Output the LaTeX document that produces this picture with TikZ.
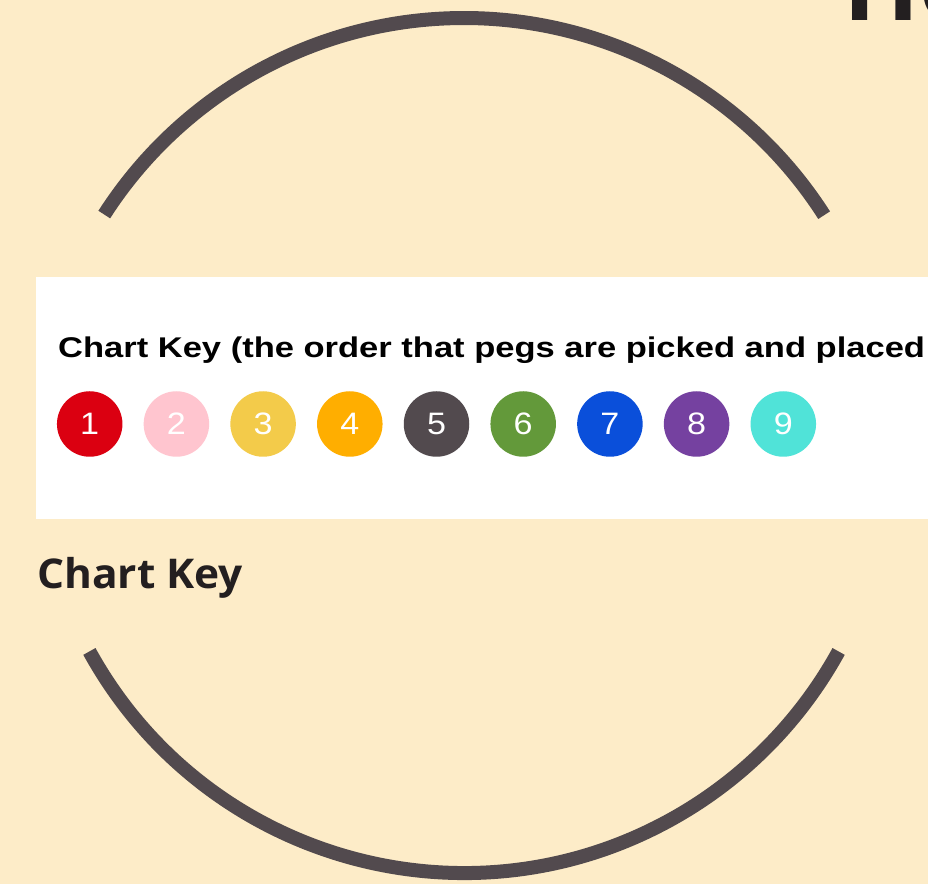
\documentclass[tikz,border=0pt]{standalone}
\usepackage{fontspec}
\setmainfont{Liberation Sans}
\newfontfamily\opensans{Open Sans}
\definecolor{bgc}{HTML}{FDECC8}
\definecolor{ringc}{HTML}{524A4E}
\definecolor{darktxt}{HTML}{231F20}
\definecolor{k1}{HTML}{DB0011}
\definecolor{k2}{HTML}{FFC5CF}
\definecolor{k3}{HTML}{F3CB4A}
\definecolor{k4}{HTML}{FFAE00}
\definecolor{k5}{HTML}{524A4E}
\definecolor{k6}{HTML}{63993A}
\definecolor{k7}{HTML}{0A4FDA}
\definecolor{k8}{HTML}{7541A0}
\definecolor{k9}{HTML}{50E3D8}
\begin{document}
\begin{tikzpicture}[x=1pt,y=1pt,
  ring/.style={draw=ringc,line width=14pt,line cap=butt},
  peg/.style={circle,minimum size=65.5pt,inner sep=0pt,text=white,font=\fontsize{31}{31}\selectfont},
  lbl/.style={anchor=base west,inner sep=0pt}]
\useasboundingbox (0,0) rectangle (928,884);
\clip (0,0) rectangle (928,884);
\fill[bgc] (0,0) rectangle (928,884);
\coordinate (c) at (464,438.5);
\draw[ring] ([shift={(32.6:427.5)}]c) arc[start angle=32.6,end angle=147.3,radius=427.5];
\draw[ring] ([shift={(208.8:427.5)}]c) arc[start angle=208.8,end angle=331.2,radius=427.5];
\fill[white] (36,365) rectangle (940,607);
\node[lbl,font=\bfseries\fontsize{28.5}{28.5}\selectfont] (hdr) at (58,526) {\scalebox{1.211}[1]{Chart Key (the order that pegs are picked and placed}};
\foreach \i in {1,...,9}{
  \node[peg,fill=k\i] (p\i) at ({89.7+86.7*(\i-1)},460) {\scalebox{1.1}[1]{\i}};
}
\node[lbl,text=darktxt,font=\opensans\bfseries\fontsize{41}{41}\selectfont] (ck) at (37,296) {\scalebox{1.035}[1]{Chart Key}};
\node[lbl,text=darktxt,font=\opensans\bfseries\fontsize{100}{100}\selectfont] (ttl) at (843,863) {Ho};
\end{tikzpicture}
\end{document}
